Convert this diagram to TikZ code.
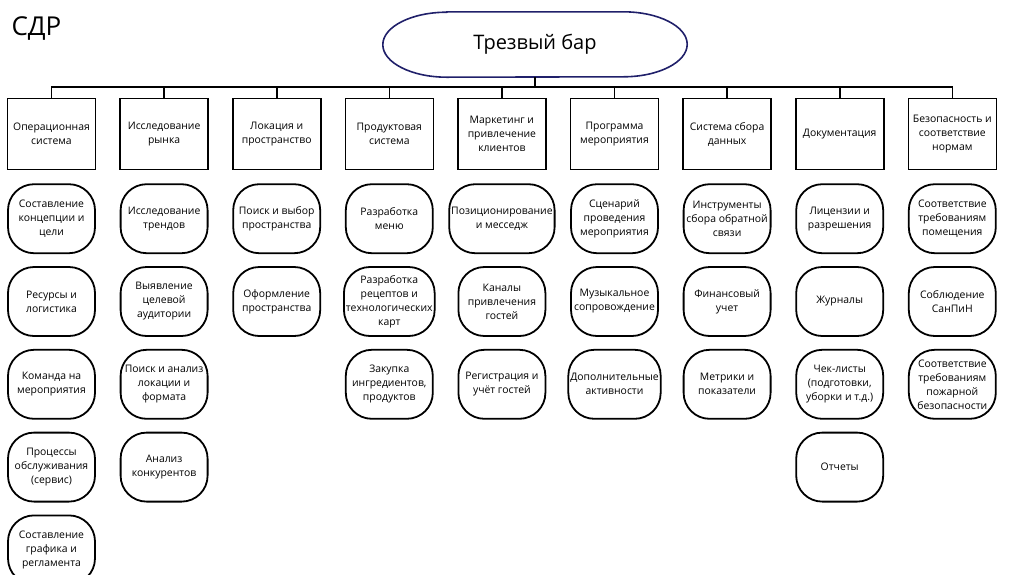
\documentclass[tikz,border=0pt]{standalone}
\usepackage{fontspec}
\setmainfont{Open Sans}
\usetikzlibrary{positioning}
\definecolor{barNavy}{HTML}{20206A}

\begin{document}
\begin{tikzpicture}[
  node distance=12pt and 23pt,
  every node/.style={font=\fontsize{10.4}{14}\selectfont,align=center},
  cat/.style={draw,line width=1.6pt,minimum width=88pt,minimum height=71pt,inner sep=2pt},
  task/.style={draw,line width=1.8pt,rounded corners=26pt,
               minimum width=87pt,minimum height=69pt,inner sep=2pt},
  conn/.style={line width=1.6pt},
]
  \useasboundingbox (0,0) rectangle (1024pt,-574pt);

  \node[font=\fontsize{26}{30}\selectfont,anchor=west] (sdr) at (8pt,-29pt) {СДР};
  \node[font=\fontsize{20}{24}\selectfont,minimum width=304pt,minimum height=65pt]
       (bar) at (535pt,-44.5pt) {Трезвый бар};
  \draw[barNavy,line width=1.6pt] ([xshift=64pt]bar.north west) -- ([xshift=-64pt]bar.north east)
    arc[start angle=90,end angle=-90,x radius=64pt,y radius=32.5pt]
    -- ([xshift=64pt]bar.south west)
    arc[start angle=270,end angle=90,x radius=64pt,y radius=32.5pt] -- cycle;

  % level 1
  \node[cat] (ops) at (51.5pt,-134pt) {Операционная\\система};
  \node[cat,right=of ops]    (res)  {Исследование\\рынка};
  \node[cat,right=of res]    (loc)  {Локация и\\пространство};
  \node[cat,right=of loc]    (prod) {Продуктовая\\система};
  \node[cat,right=of prod]   (mkt)  {Маркетинг и\\привлечение\\клиентов};
  \node[cat,right=of mkt]    (prog) {Программа\\мероприятия};
  \node[cat,right=of prog]   (data) {Система сбора\\данных};
  \node[cat,right=of data]   (docs) {Документация};
  \node[cat,right=of docs]   (safe) {Безопасность и\\соответствие\\нормам};

  \coordinate (bus) at ([yshift=-10pt]bar.south);
  \foreach \n in {ops,res,loc,prod,mkt,prog,data,docs,safe}
    \draw[conn] (bar.south) -- (bus) -| (\n.north);

  % level 2
  \node[task,below=13pt of ops] (ops1) {Составление\\концепции и\\цели};
  \node[task,below=of ops1]     (ops2) {Ресурсы и\\логистика};
  \node[task,below=of ops2]     (ops3) {Команда на\\мероприятия};
  \node[task,below=of ops3]     (ops4) {Процессы\\обслуживания\\(сервис)};
  \node[task,below=of ops4]     (ops5) {Составление\\графика и\\регламента};

  \node[task,below=13pt of res] (res1) {Исследование\\трендов};
  \node[task,below=of res1]     (res2) {Выявление\\целевой\\аудитории};
  \node[task,below=of res2]     (res3) {Поиск и анализ\\локации и\\формата};
  \node[task,below=of res3]     (res4) {Анализ\\конкурентов};

  \node[task,below=13pt of loc] (loc1) {Поиск и выбор\\пространства};
  \node[task,below=of loc1]     (loc2) {Оформление\\пространства};

  \node[task,below=13pt of prod] (prod1) {Разработка\\меню};
  \node[task,below=of prod1]     (prod2) {Разработка\\рецептов и\\технологических\\карт};
  \node[task,below=of prod2]     (prod3) {Закупка\\ингредиентов,\\продуктов};

  \node[task,below=13pt of mkt] (mkt1) {Позиционирование\\и месседж};
  \node[task,below=of mkt1]     (mkt2) {Каналы\\привлечения\\гостей};
  \node[task,below=of mkt2]     (mkt3) {Регистрация и\\учёт гостей};

  \node[task,below=13pt of prog] (prog1) {Сценарий\\проведения\\мероприятия};
  \node[task,below=of prog1]     (prog2) {Музыкальное\\сопровождение};
  \node[task,below=of prog2]     (prog3) {Дополнительные\\активности};

  \node[task,below=13pt of data] (data1) {Инструменты\\сбора обратной\\связи};
  \node[task,below=of data1]     (data2) {Финансовый\\учет};
  \node[task,below=of data2]     (data3) {Метрики и\\показатели};

  \node[task,below=13pt of docs] (docs1) {Лицензии и\\разрешения};
  \node[task,below=of docs1]     (docs2) {Журналы};
  \node[task,below=of docs2]     (docs3) {Чек-листы\\(подготовки,\\уборки и т.д.)};
  \node[task,below=of docs3]     (docs4) {Отчеты};

  \node[task,below=13pt of safe] (safe1) {Соответствие\\требованиям\\помещения};
  \node[task,below=of safe1]     (safe2) {Соблюдение\\СанПиН};
  \node[task,below=of safe2]     (safe3) {Соответствие\\требованиям\\пожарной\\безопасности};
\end{tikzpicture}
\end{document}
